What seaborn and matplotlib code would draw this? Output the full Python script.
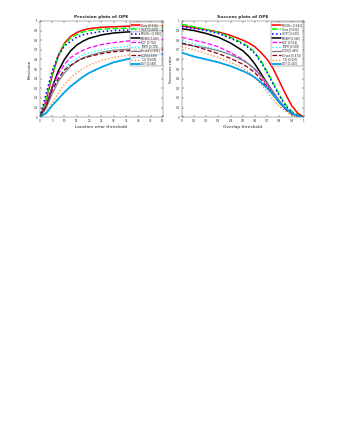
import numpy as np
import pandas as pd
import seaborn as sns
import matplotlib
matplotlib.use("Agg")
from matplotlib import pyplot as plt

# 阈值
prec_x = [0, 2.5, 5, 7.5, 10, 12.5, 15, 17.5, 20, 25, 30, 35, 40, 45, 50]
succ_x = [0, 0.1, 0.2, 0.3, 0.4, 0.5, 0.55, 0.6, 0.65, 0.7, 0.75, 0.8, 0.85, 0.9, 0.95, 1.0]

# Precision 曲线
prec_labels = ['Ours [0.918]', 'HCFT [0.891]', 'MUSTer [0.865]', 'MEEM [0.830]', 'KCF [0.740]',
               'TGPR [0.705]', 'Struck [0.656]', 'SCM [0.649]', 'TLD [0.608]', 'DLT [0.548]']
prec_ours = [0, 0.17, 0.43, 0.64, 0.77, 0.84, 0.88, 0.905, 0.92, 0.935, 0.94, 0.945, 0.948, 0.95, 0.95]
prec_hcft = [0, 0.19, 0.45, 0.64, 0.76, 0.82, 0.86, 0.885, 0.9, 0.915, 0.92, 0.925, 0.928, 0.93, 0.93]
prec_muster = [0, 0.24, 0.48, 0.64, 0.74, 0.79, 0.83, 0.855, 0.87, 0.89, 0.9, 0.905, 0.91, 0.912, 0.915]
prec_meem = [0, 0.11, 0.31, 0.48, 0.6, 0.69, 0.75, 0.79, 0.82, 0.855, 0.875, 0.885, 0.89, 0.895, 0.9]
prec_kcf = [0, 0.12, 0.31, 0.45, 0.55, 0.62, 0.66, 0.695, 0.72, 0.755, 0.775, 0.79, 0.8, 0.805, 0.81]
prec_tgpr = [0, 0.11, 0.28, 0.41, 0.5, 0.57, 0.61, 0.645, 0.67, 0.7, 0.72, 0.735, 0.74, 0.745, 0.75]
prec_struck = [0, 0.09, 0.24, 0.37, 0.46, 0.53, 0.58, 0.615, 0.64, 0.675, 0.695, 0.705, 0.71, 0.715, 0.72]
prec_scm = [0, 0.11, 0.28, 0.4, 0.49, 0.54, 0.58, 0.61, 0.63, 0.66, 0.68, 0.69, 0.695, 0.7, 0.705]
prec_tld = [0, 0.05, 0.15, 0.25, 0.34, 0.41, 0.46, 0.505, 0.54, 0.59, 0.62, 0.64, 0.655, 0.665, 0.67]
prec_dlt = [0, 0.04, 0.12, 0.19, 0.26, 0.32, 0.37, 0.42, 0.46, 0.52, 0.57, 0.6, 0.625, 0.64, 0.655]

# Success 曲线
succ_labels = ['MUSTer [0.641]', 'Ours [0.634]', 'HCFT [0.605]', 'MEEM [0.566]', 'KCF [0.514]',
               'TGPR [0.503]', 'SCM [0.499]', 'Struck [0.474]', 'TLD [0.437]', 'DLT [0.415]']
succ_muster = [0.95, 0.93, 0.91, 0.885, 0.85, 0.8, 0.77, 0.73, 0.67, 0.6, 0.5, 0.37, 0.24, 0.12, 0.04, 0]
succ_ours = [0.965, 0.94, 0.91, 0.88, 0.83, 0.77, 0.73, 0.67, 0.58, 0.47, 0.35, 0.23, 0.13, 0.06, 0.02, 0]
succ_hcft = [0.94, 0.92, 0.9, 0.87, 0.82, 0.76, 0.72, 0.66, 0.57, 0.46, 0.34, 0.22, 0.12, 0.05, 0.015, 0]
succ_meem = [0.92, 0.9, 0.87, 0.83, 0.77, 0.69, 0.63, 0.55, 0.45, 0.35, 0.25, 0.16, 0.09, 0.04, 0.01, 0]
succ_kcf = [0.83, 0.8, 0.77, 0.73, 0.67, 0.6, 0.55, 0.49, 0.42, 0.33, 0.24, 0.15, 0.08, 0.04, 0.01, 0]
succ_tgpr = [0.79, 0.76, 0.73, 0.7, 0.65, 0.59, 0.55, 0.49, 0.42, 0.34, 0.25, 0.16, 0.09, 0.04, 0.01, 0]
succ_scm = [0.76, 0.74, 0.72, 0.69, 0.65, 0.59, 0.55, 0.5, 0.43, 0.35, 0.26, 0.17, 0.09, 0.04, 0.01, 0]
succ_struck = [0.77, 0.74, 0.7, 0.66, 0.61, 0.55, 0.51, 0.46, 0.39, 0.31, 0.23, 0.15, 0.08, 0.03, 0.01, 0]
succ_tld = [0.73, 0.7, 0.66, 0.62, 0.57, 0.51, 0.47, 0.41, 0.34, 0.26, 0.18, 0.11, 0.06, 0.02, 0.005, 0]
succ_dlt = [0.67, 0.63, 0.6, 0.57, 0.53, 0.48, 0.45, 0.41, 0.36, 0.3, 0.23, 0.15, 0.09, 0.04, 0.01, 0]

prec_data = [prec_ours, prec_hcft, prec_muster, prec_meem, prec_kcf,
             prec_tgpr, prec_struck, prec_scm, prec_tld, prec_dlt]
succ_data = [succ_muster, succ_ours, succ_hcft, succ_meem, succ_kcf,
             succ_tgpr, succ_scm, succ_struck, succ_tld, succ_dlt]

# OTB 风格（按排名）
colors = [(1, 0, 0), (0, 1, 0), (0, 0, 1), (0, 0, 0), (1, 0, 1),
          (0, 1, 1), (0.5, 0.5, 0.5), (136/255, 0, 21/255), (1, 127/255, 39/255), (0, 162/255, 232/255)]
styles = ['-', '--', ':', '-', '--', ':', '-', '--', ':', '-']
widths = [1.1, 1.1, 1.1, 1.1, 0.9, 0.9, 0.9, 0.9, 0.9, 1.3]

sns.set_style("ticks")
plt.rcParams['font.family'] = ['DejaVu Sans']

fig = plt.figure(figsize=(3.38, 4.37), dpi=100)
ax1 = fig.add_axes([0.118, 0.732, 0.364, 0.220])
ax2 = fig.add_axes([0.538, 0.732, 0.361, 0.220])


def draw(ax, xs, data, labels, title, xlabel, ylabel, xticks, xticklabels):
    for i in range(len(data)):
        sns.lineplot(x=xs, y=data[i], ax=ax, color=colors[i], linestyle=styles[i],
                     linewidth=widths[i], label=labels[i])
    ax.set_xlim(xs[0], xs[-1])
    ax.set_ylim(0, 1)
    ax.set_xticks(xticks)
    ax.set_xticklabels(xticklabels)
    ax.set_yticks(np.arange(0, 1.01, 0.1))
    ax.set_yticklabels(['0', '0.1', '0.2', '0.3', '0.4', '0.5', '0.6', '0.7', '0.8', '0.9', '1'])
    ax.tick_params(direction='in', length=1.2, width=0.3, labelsize=2.0, pad=1.5, top=True, right=True)
    for s in ax.spines.values():
        s.set_linewidth(0.3)
        s.set_color('#444444')
    ax.set_title(title, fontsize=3.2, fontweight='bold', pad=2)
    ax.set_xlabel(xlabel, fontsize=3.2, labelpad=1.5)
    ax.set_ylabel(ylabel, fontsize=3.2, labelpad=1.5)
    leg = ax.legend(loc='upper right', fontsize=1.9, frameon=True, fancybox=False,
                    edgecolor='#333333', handlelength=3.4, borderaxespad=0.5,
                    labelspacing=0.12, borderpad=0.25, handletextpad=0.5)
    leg.get_frame().set_linewidth(0.3)


draw(ax1, prec_x, prec_data, prec_labels, 'Precision plots of OPE', 'Location error threshold', 'Precision',
     [0, 5, 10, 15, 20, 25, 30, 35, 40, 45, 50], ['0', '5', '10', '15', '20', '25', '30', '35', '40', '45', '50'])
draw(ax2, succ_x, succ_data, succ_labels, 'Success plots of OPE', 'Overlap threshold', 'Success rate',
     np.arange(0, 1.01, 0.1), ['0', '0.1', '0.2', '0.3', '0.4', '0.5', '0.6', '0.7', '0.8', '0.9', '1'])

fig.savefig('out.png', dpi=100)
